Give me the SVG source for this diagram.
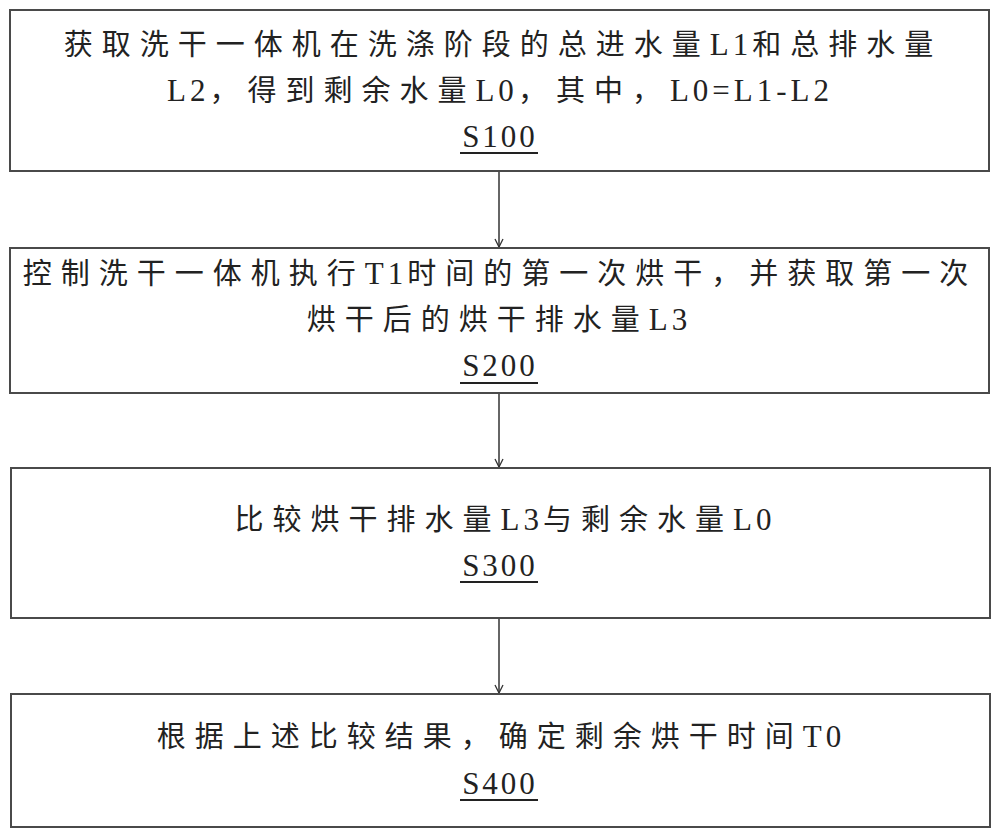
<svg xmlns="http://www.w3.org/2000/svg" width="1000" height="839" viewBox="0 0 1000 839">
<style>
  .box { fill: #ffffff; stroke: #4a4a4a; stroke-width: 2; }
  .t { font-family: "Liberation Serif", "Noto Sans CJK SC", serif; font-size: 29px; fill: #222; letter-spacing: 9px; text-anchor: middle; }
  .l { font-size: 31px; letter-spacing: 4px; }
  .s { font-family: "Liberation Serif", serif; font-size: 31px; fill: #222; letter-spacing: 3px; text-anchor: middle; }
  .ul { stroke: #222; stroke-width: 2; }
  .conn { stroke: #333; stroke-width: 1.5; fill: none; }
</style>
<defs>
  <marker id="arr" viewBox="0 0 10 10" refX="9" refY="5" markerWidth="10" markerHeight="10" markerUnits="userSpaceOnUse" orient="auto">
    <path d="M1,1 L9,5 L1,9" fill="none" stroke="#333" stroke-width="1.3"/>
  </marker>
</defs>
<rect width="1000" height="839" fill="#ffffff"/>

<g id="connectors">
  <line class="conn" x1="499" y1="171" x2="499" y2="247" marker-end="url(#arr)"/>
  <line class="conn" x1="499" y1="393" x2="499" y2="467" marker-end="url(#arr)"/>
  <line class="conn" x1="499" y1="618" x2="499" y2="693" marker-end="url(#arr)"/>
</g>

<g id="S100">
  <rect class="box" x="10" y="10" width="979" height="161"/>
  <text class="t" x="503" y="55">获取洗干一体机在洗涤阶段的总进水量<tspan class="l">L1</tspan>和总排水量</text>
  <text class="t" x="500" y="101"><tspan class="l">L2</tspan>，得到剩余水量<tspan class="l">L0</tspan>，其中，<tspan class="l">L0=L1-L2</tspan></text>
  <text class="s" x="500" y="147">S100</text>
  <line class="ul" x1="460" y1="153" x2="538" y2="153"/>
</g>

<g id="S200">
  <rect class="box" x="10" y="248" width="979" height="145"/>
  <text class="t" x="500" y="284">控制洗干一体机执行<tspan class="l">T1</tspan>时间的第一次烘干，并获取第一次</text>
  <text class="t" x="499" y="330">烘干后的烘干排水量<tspan class="l">L3</tspan></text>
  <text class="s" x="500" y="376">S200</text>
  <line class="ul" x1="460" y1="383" x2="538" y2="383"/>
</g>

<g id="S300">
  <rect class="box" x="11" y="468" width="979" height="150"/>
  <text class="t" x="505" y="530">比较烘干排水量<tspan class="l">L3</tspan>与剩余水量<tspan class="l">L0</tspan></text>
  <text class="s" x="500" y="576">S300</text>
  <line class="ul" x1="460" y1="582" x2="538" y2="582"/>
</g>

<g id="S400">
  <rect class="box" x="11" y="694" width="979" height="133"/>
  <text class="t" x="501" y="747">根据上述比较结果，确定剩余烘干时间<tspan class="l">T0</tspan></text>
  <text class="s" x="500" y="794">S400</text>
  <line class="ul" x1="460" y1="800" x2="538" y2="800"/>
</g>
</svg>
